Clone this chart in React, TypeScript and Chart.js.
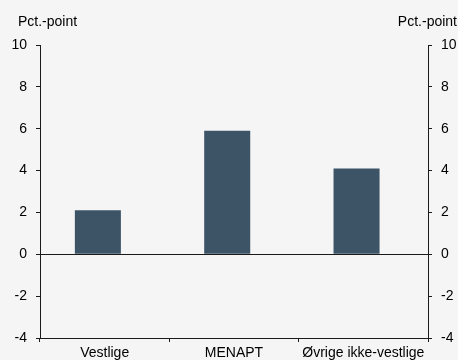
import React, { useEffect, useRef } from "react";
import { Chart, registerables } from "chart.js";

Chart.register(...registerables);

const categories = ["Vestlige", "MENAPT", "Øvrige ikke-vestlige"];
const values = [2.1, 5.9, 4.1];
const emptySeries = [null, null, null];
const yMin = -4;
const yMax = 10;
const yStep = 2;
const yTitle = "Pct.-point";

const FONT = "'Liberation Sans', Arial, sans-serif";
const BG = "#f5f5f5";
const BAR = "#3d5466";
const AXIS = "#1a1a1a";

const titlesPlugin = {
  id: "titlesPlugin",
  beforeDraw(chart: any) {
    const ctx = chart.ctx;
    ctx.save();
    ctx.fillStyle = BG;
    ctx.fillRect(0, 0, chart.width, chart.height);
    ctx.restore();
  },
  afterDraw(chart: any) {
    const ctx = chart.ctx;
    ctx.save();
    ctx.font = `14px ${FONT}`;
    ctx.fillStyle = "#000";
    ctx.textBaseline = "alphabetic";
    ctx.textAlign = "left";
    ctx.fillText(yTitle, 18, 26);
    ctx.textAlign = "right";
    ctx.fillText(yTitle, chart.width - 1, 26);
    ctx.restore();
  },
};

export default function App() {
  const ref = useRef<HTMLCanvasElement | null>(null);
  useEffect(() => {
    if (!ref.current) return;
    const zeroColor = (c: any) =>
      c.tick && c.tick.value === 0 ? AXIS : "rgba(0,0,0,0)";
    const chart = new Chart(ref.current, {
      type: "bar",
      data: {
        labels: categories,
        datasets: [
          {
            data: values,
            backgroundColor: BAR,
            borderWidth: 0,
            barPercentage: 3.39,
            categoryPercentage: 0.21,
            yAxisID: "y",
          },
          {
            data: emptySeries as any,
            backgroundColor: BAR,
            borderWidth: 0,
            barPercentage: 3.39,
            categoryPercentage: 0.21,
            yAxisID: "y",
          },
        ],
      },
      options: {
        animation: false,
        responsive: true,
        maintainAspectRatio: false,
        layout: { padding: { top: 45, left: 0, right: 0, bottom: 0 } },
        plugins: {
          legend: { display: false },
          tooltip: { enabled: false },
        },
        scales: {
          x: {
            grid: {
              offset: true,
              color: "rgba(0,0,0,0)",
              tickColor: AXIS,
              tickLength: 4,
              drawOnChartArea: false,
            },
            border: { display: true, color: AXIS, width: 1 },
            ticks: {
              color: "#000",
              font: { family: FONT, size: 14 },
              padding: 3,
              maxRotation: 0,
              autoSkip: false,
            },
            afterFit: (s: any) => {
              s.height = 22;
            },
          },
          y: {
            position: "left",
            min: yMin,
            max: yMax,
            grid: {
              color: zeroColor,
              tickColor: AXIS,
              tickLength: 4,
            },
            border: { display: true, color: AXIS, width: 1 },
            ticks: {
              stepSize: yStep,
              color: "#000",
              font: { family: FONT, size: 14 },
              padding: 9,
            },
            afterFit: (s: any) => {
              s.width = 40;
            },
          },
          y2: {
            position: "right",
            min: yMin,
            max: yMax,
            grid: {
              color: "rgba(0,0,0,0)",
              tickColor: AXIS,
              tickLength: 4,
              drawOnChartArea: false,
            },
            border: { display: true, color: AXIS, width: 1 },
            ticks: {
              stepSize: yStep,
              color: "#000",
              font: { family: FONT, size: 14 },
              padding: 9,
            },
            afterFit: (s: any) => {
              s.width = 30;
            },
          },
        },
      },
      plugins: [titlesPlugin],
    });
    return () => chart.destroy();
  }, []);

  return (
    <div
      style={{
        position: "absolute",
        left: 0,
        top: 0,
        width: 458,
        height: 360,
        background: BG,
      }}
    >
      <canvas ref={ref} />
    </div>
  );
}
